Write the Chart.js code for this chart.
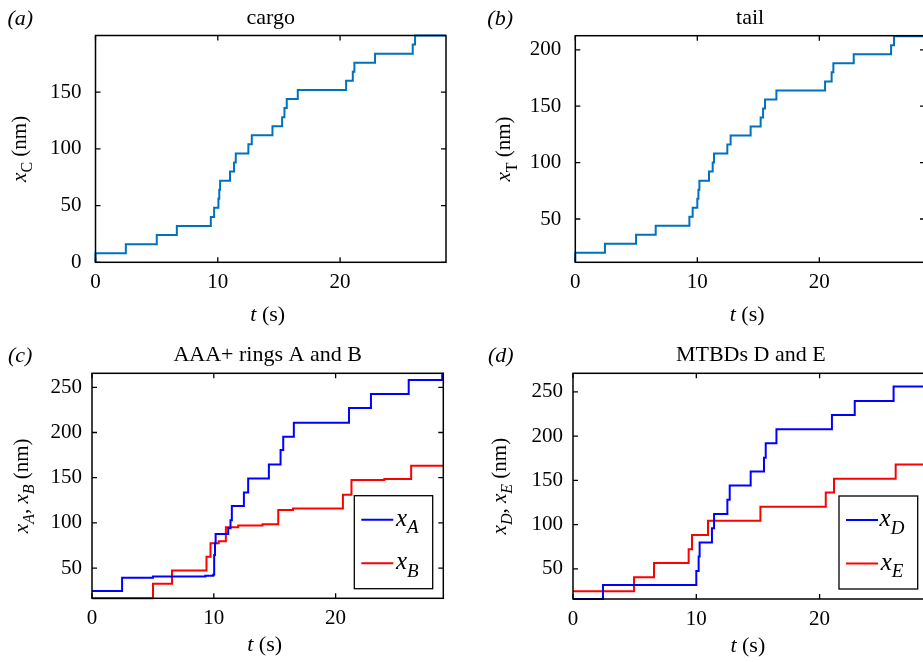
<!DOCTYPE html>
<html lang="en">
<head>
<meta charset="UTF-8">
<title>Cargo, tail, ring and MTBD positions</title>
<script src="https://cdn.jsdelivr.net/npm/chart.js"></script>
<style>
    html, body {
        margin: 0;
        padding: 0;
        background: #fff;
        overflow: hidden;
    }
    #wrap {
        position: relative;
        width: 923px;
        height: 662px;
        overflow: hidden;
    }
    canvas {
        position: absolute;
        left: 0;
        top: 0;
    }
</style>
</head>
<body>
<div id="wrap">
    <canvas id="chart-a" width="960" height="662"></canvas>
    <canvas id="chart-b" width="960" height="662"></canvas>
    <canvas id="chart-c" width="960" height="662"></canvas>
    <canvas id="chart-d" width="960" height="662"></canvas>
</div>

<script>
// (a) cargo position: jump times (s) and new positions (nm)
const cargoTime = [0, 0, 2.48, 5.01, 6.65, 9.43, 9.70, 10.05, 10.12, 10.19, 11.00, 11.33, 11.47, 12.50, 12.78, 14.47, 15.26, 15.45, 15.64, 16.54, 20.49, 21.04, 21.17, 22.86, 25.94, 26.13, 28.66];
const cargoPos  = [0, 8, 16, 24, 32, 40, 48, 56, 64, 72, 80, 88, 96, 104, 112, 120, 128, 136, 144, 152, 160, 168, 176, 184, 192, 200, 200];

// (b) tail
const tailTime = [0, 0, 2.43, 4.98, 6.59, 9.35, 9.62, 10.00, 10.09, 10.17, 10.96, 11.26, 11.37, 12.46, 12.73, 14.37, 15.19, 15.39, 15.55, 16.48, 20.47, 21.01, 21.15, 22.82, 25.88, 26.12, 28.66];
const tailPos  = [12, 20, 28, 36, 44, 52, 60, 68, 76, 84, 92, 100, 108, 116, 124, 132, 140, 148, 156, 164, 172, 180, 188, 196, 204, 212, 212];

// (c) AAA+ rings A and B
const ringATime = [0, 2.47, 5.00, 9.30, 9.95, 10.03, 10.10, 10.15, 11.18, 11.37, 11.48, 12.47, 12.82, 14.52, 15.48, 15.70, 16.57, 21.10, 22.90, 26.00, 28.75, 28.84];
const ringAPos  = [24.5, 39.3, 40.5, 41.5, 42.5, 64.4, 77.3, 87.6, 94.0, 103.0, 118.6, 133.7, 149.2, 164.7, 180.5, 195.2, 210.7, 227.0, 242.5, 258.0, 265.0, 265.0];
const ringBTime = [0, 5.01, 6.57, 9.40, 9.73, 10.40, 10.99, 12.00, 14.00, 15.29, 16.50, 20.60, 21.30, 24.00, 26.20, 28.84];
const ringBPos  = [16.5, 32.7, 47.4, 62.5, 77.3, 79.5, 95.0, 97.0, 98.5, 114.2, 116.0, 131.0, 147.3, 148.5, 163.2, 163.2];

// (d) MTBDs D and E
const mtbdDTime = [0, 2.43, 10.00, 10.19, 10.27, 11.27, 11.44, 12.52, 12.71, 14.41, 15.49, 15.63, 16.50, 21.00, 22.85, 26.00, 28.84];
const mtbdDPos  = [16.0, 31.9, 47.7, 63.9, 79.7, 96.0, 112.1, 128.0, 144.1, 160.0, 175.5, 192.0, 207.9, 224.0, 239.8, 256.0, 256.0];
const mtbdETime = [0, 4.95, 6.57, 9.38, 9.65, 10.95, 15.20, 20.50, 21.17, 26.17, 28.84];
const mtbdEPos  = [24.8, 40.6, 56.6, 72.3, 88.4, 104.4, 120.2, 136.2, 152.0, 167.9, 167.9];

// tick values
const timeTicks = [0, 10, 20];
const cargoTicks = [0, 50, 100, 150];
const tailTicks = [50, 100, 150, 200];
const motorTicks = [50, 100, 150, 200, 250];

const SERIF = "'Liberation Serif', 'Times New Roman', serif";

function pts(ts, vs) {
    return ts.map((t, i) => ({ x: t, y: vs[i] }));
}

// draws text made of pieces: [text, style] with style 'r', 'i', 'sr', 'si' (s = subscript)
function drawRich(ctx, parts, x, y, size, rotate) {
    ctx.save();
    ctx.translate(x, y);
    if (rotate) ctx.rotate(-Math.PI / 2);
    const fontOf = p => (p[1].indexOf('i') >= 0 ? 'italic ' : '') +
        Math.round(p[1][0] === 's' ? size * 0.75 : size) + 'px ' + SERIF;
    let w = 0;
    parts.forEach(p => { ctx.font = fontOf(p); w += ctx.measureText(p[0]).width; });
    let cx = -w / 2;
    ctx.textAlign = 'left';
    ctx.textBaseline = 'alphabetic';
    ctx.fillStyle = '#000';
    parts.forEach(p => {
        ctx.font = fontOf(p);
        ctx.fillText(p[0], cx, p[1][0] === 's' ? size * 0.3 : 0);
        cx += ctx.measureText(p[0]).width;
    });
    ctx.restore();
}

const decoPlugin = {
    id: 'deco',
    afterDatasetsDraw(chart, args, opts) {
        const ctx = chart.ctx;
        const a = chart.chartArea;
        const xs = chart.scales.x, ys = chart.scales.y;

        // box + inward ticks on all four sides
        ctx.save();
        ctx.strokeStyle = '#000';
        ctx.lineWidth = 1.5;
        ctx.strokeRect(a.left, a.top, a.right - a.left, a.bottom - a.top);
        ctx.lineWidth = 1.3;
        ctx.beginPath();
        xs.ticks.forEach(t => {
            const px = xs.getPixelForValue(t.value);
            ctx.moveTo(px, a.bottom); ctx.lineTo(px, a.bottom - 5);
            ctx.moveTo(px, a.top); ctx.lineTo(px, a.top + 5);
        });
        ys.ticks.forEach(t => {
            const py = ys.getPixelForValue(t.value);
            ctx.moveTo(a.left, py); ctx.lineTo(a.left + 5, py);
            ctx.moveTo(a.right, py); ctx.lineTo(a.right - 5, py);
        });
        ctx.stroke();

        // panel tag and title
        ctx.fillStyle = '#000';
        ctx.textBaseline = 'alphabetic';
        ctx.font = 'italic 22px ' + SERIF;
        ctx.textAlign = 'left';
        ctx.fillText('(', a.left + opts.tagDx, a.top - 11);
        let w = ctx.measureText('(').width;
        ctx.fillText(opts.tag, a.left + opts.tagDx + w, a.top - 11);
        w += ctx.measureText(opts.tag).width;
        ctx.fillText(')', a.left + opts.tagDx + w, a.top - 11);
        ctx.font = '22px ' + SERIF;
        ctx.textAlign = 'center';
        ctx.fillText(opts.title, (a.left + Math.min(a.right, opts.titleRight || a.right)) / 2, a.top - 12);

        // axis titles
        drawRich(ctx, [['t', 'i'], [' (s)', 'r']], (a.left + a.right) / 2 - 3, a.bottom + opts.xLabelDy, 22, false);
        drawRich(ctx, opts.yLabel, a.left + opts.yLabelDx, (a.top + a.bottom) / 2, 21, true);

        // legend inside the axes
        if (opts.legend) {
            const L = opts.legend;
            const bx = a.left + L.dx, by = a.top + L.dy;
            ctx.lineWidth = 1.3;
            ctx.fillStyle = '#fff';
            ctx.fillRect(bx, by, L.w, L.h);
            ctx.strokeRect(bx, by, L.w, L.h);
            chart.data.datasets.forEach((ds, i) => {
                const ly = by + 24 + i * 43.5;
                ctx.strokeStyle = ds.borderColor;
                ctx.lineWidth = 2;
                ctx.beginPath();
                ctx.moveTo(bx + 7, ly);
                ctx.lineTo(bx + 39, ly);
                ctx.stroke();
                const bits = ds.label.split('_');
                drawRich(ctx, [[bits[0], 'i'], [bits[1], 'si']], bx + 53, ly + 6, 25, false);
            });
        }
        ctx.restore();
    }
};

function makeChart(id, cfg) {
    const W = 960, H = 662, YW = 60, XH = 40;
    const datasets = cfg.series.map(s => ({
        label: s.label,
        data: pts(s.t, s.v),
        borderColor: s.color,
        borderWidth: 2,
        pointRadius: 0,
        fill: false,
        stepped: 'before',
        clip: 3
    }));
    const tickFont = { family: SERIF, size: 21 };
    return new Chart(document.getElementById(id), {
        type: 'line',
        data: { datasets: datasets },
        options: {
            responsive: false,
            animation: false,
            devicePixelRatio: 1,
            layout: {
                padding: { left: cfg.L - YW, right: W - cfg.R, top: cfg.T, bottom: H - cfg.B - XH }
            },
            plugins: {
                legend: { display: false },
                tooltip: { enabled: false },
                deco: cfg.deco
            },
            scales: {
                x: {
                    type: 'linear',
                    min: 0,
                    max: cfg.xMax,
                    afterBuildTicks: s => { s.ticks = timeTicks.map(v => ({ value: v })); },
                    afterFit: s => { s.height = XH; },
                    grid: { display: false, drawTicks: false },
                    border: { display: false },
                    ticks: { color: '#000', font: tickFont, padding: 8, maxRotation: 0, autoSkip: false }
                },
                y: {
                    type: 'linear',
                    min: cfg.yMin,
                    max: cfg.yMax,
                    afterBuildTicks: s => { s.ticks = cfg.yTicks.map(v => ({ value: v })); },
                    afterFit: s => { s.width = YW; },
                    grid: { display: false, drawTicks: false },
                    border: { display: false },
                    ticks: { color: '#000', font: tickFont, padding: cfg.yPad }
                }
            }
        },
        plugins: [decoPlugin]
    });
}

const BLUE = '#0072BD';

makeChart('chart-a', {
    L: 95.5, R: 446, T: 35.5, B: 262.3, xMax: 28.66, yMin: 0, yMax: 200, yTicks: cargoTicks, yPad: 14,
    series: [{ label: 'x_C', t: cargoTime, v: cargoPos, color: BLUE }],
    deco: { tag: 'a', tagDx: -88, title: 'cargo', xLabelDy: 59, yLabelDx: -70,
            yLabel: [['x', 'i'], ['C', 'sr'], [' (nm)', 'r']] }
});

makeChart('chart-b', {
    L: 575.3, R: 925, T: 35.7, B: 262.3, xMax: 28.66, yMin: 11.6, yMax: 212.5, yTicks: tailTicks, yPad: 14,
    series: [{ label: 'x_T', t: tailTime, v: tailPos, color: BLUE }],
    deco: { tag: 'b', tagDx: -88, title: 'tail', xLabelDy: 59, yLabelDx: -65,
            yLabel: [['x', 'i'], ['T', 'sr'], [' (nm)', 'r']] }
});

makeChart('chart-c', {
    L: 92, R: 443.3, T: 373.3, B: 598.3, xMax: 28.84, yMin: 16.5, yMax: 265.5, yTicks: motorTicks, yPad: 10,
    series: [
        { label: 'x_A', t: ringATime, v: ringAPos, color: '#0000FF' },
        { label: 'x_B', t: ringBTime, v: ringBPos, color: '#FF0000' }
    ],
    deco: { tag: 'c', tagDx: -84, title: 'AAA+ rings A and B', xLabelDy: 53, yLabelDx: -64,
            yLabel: [['x', 'i'], ['A', 'si'], [', ', 'r'], ['x', 'i'], ['B', 'si'], [' (nm)', 'r']],
            legend: { dx: 262.3, dy: 122.4, w: 78.4, h: 93 } }
});

makeChart('chart-d', {
    L: 573, R: 928.6, T: 373.3, B: 599, xMax: 28.84, yMin: 16, yMax: 271, yTicks: motorTicks, yPad: 10,
    series: [
        { label: 'x_D', t: mtbdDTime, v: mtbdDPos, color: '#0000FF' },
        { label: 'x_E', t: mtbdETime, v: mtbdEPos, color: '#FF0000' }
    ],
    deco: { tag: 'd', tagDx: -85, title: 'MTBDs D and E', xLabelDy: 53, yLabelDx: -67,
            yLabel: [['x', 'i'], ['D', 'si'], [', ', 'r'], ['x', 'i'], ['E', 'si'], [' (nm)', 'r']],
            legend: { dx: 266, dy: 122.7, w: 78.7, h: 93 } }
});
</script>
</body>
</html>
